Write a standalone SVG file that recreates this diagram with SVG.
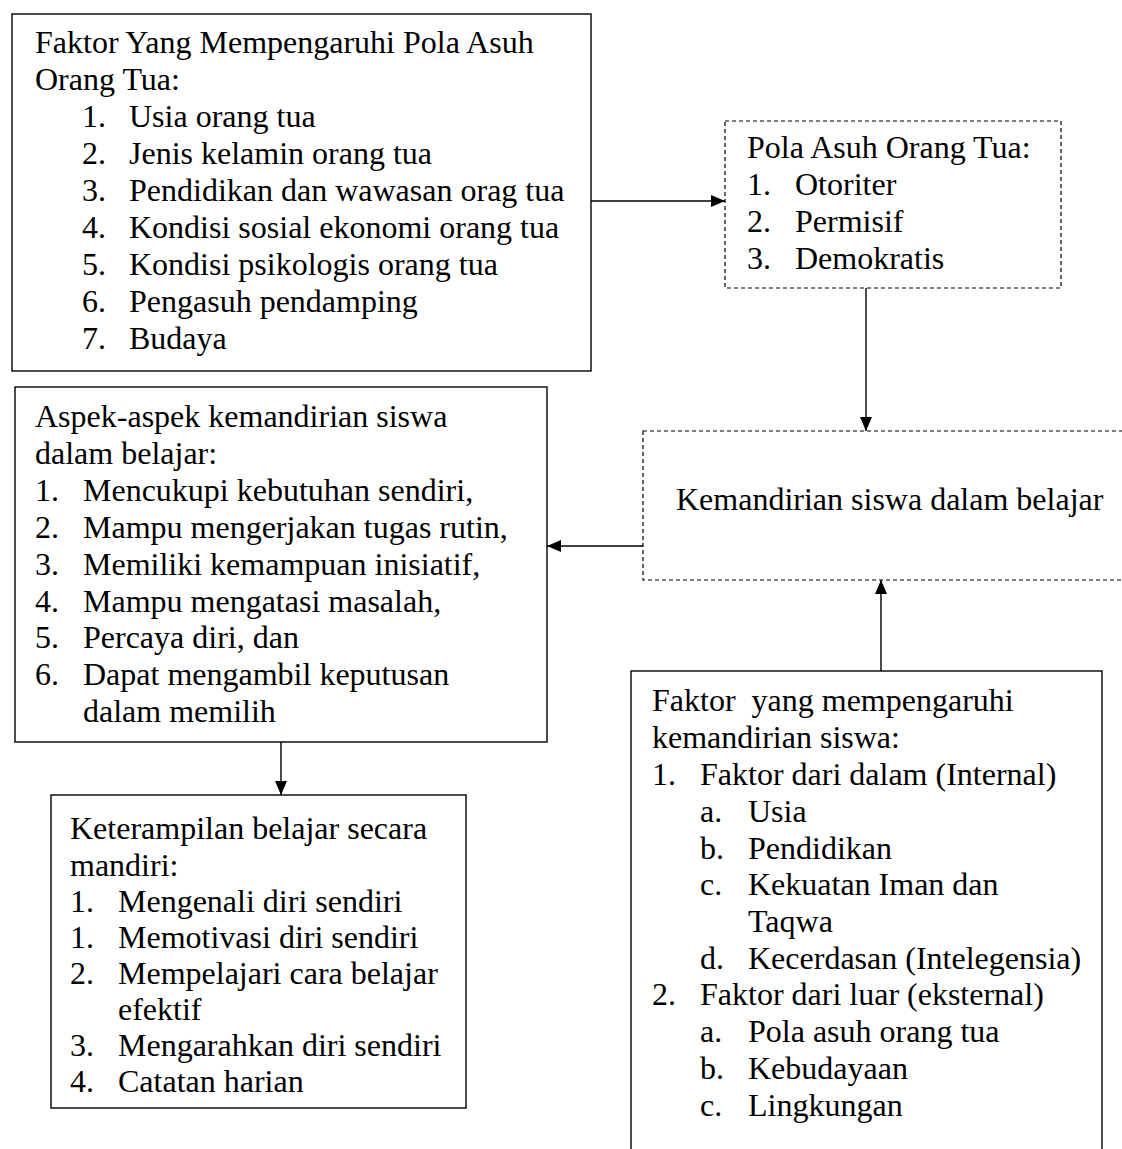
<svg xmlns="http://www.w3.org/2000/svg" width="1122" height="1149" viewBox="0 0 1122 1149">
<style>
text{font-family:"Liberation Serif","Times New Roman",serif;font-size:32px;fill:#000}
.box{fill:#fff;stroke:#000;stroke-width:1.4}
.dash{fill:#fff;stroke:#000;stroke-width:1.2;stroke-dasharray:4 3}
.conn{stroke:#000;stroke-width:1.4;fill:none}
</style>
<defs>
<marker id="ah" viewBox="0 0 14 12" refX="14" refY="6" markerWidth="14" markerHeight="12" markerUnits="userSpaceOnUse" orient="auto">
<path d="M0,0 L14,6 L0,12 Z" fill="#000"/>
</marker>
</defs>
<rect width="1122" height="1149" fill="#fff"/>

<g id="connectors">
<line class="conn" x1="591" y1="201" x2="725" y2="201" marker-end="url(#ah)"/>
<line class="conn" x1="866" y1="288" x2="866" y2="431" marker-end="url(#ah)"/>
<line class="conn" x1="643" y1="546" x2="547" y2="546" marker-end="url(#ah)"/>
<line class="conn" x1="881" y1="671" x2="881" y2="580" marker-end="url(#ah)"/>
<line class="conn" x1="281" y1="742" x2="281" y2="795" marker-end="url(#ah)"/>
</g>

<g id="faktor-pola-asuh">
<rect class="box" x="12" y="14" width="579" height="357"/>
<text x="35" y="53">Faktor Yang Mempengaruhi Pola Asuh</text>
<text x="35" y="90">Orang Tua:</text>
<text x="82" y="127">1.</text><text x="129" y="127">Usia orang tua</text>
<text x="82" y="164">2.</text><text x="129" y="164">Jenis kelamin orang tua</text>
<text x="82" y="201">3.</text><text x="129" y="201">Pendidikan dan wawasan orag tua</text>
<text x="82" y="238">4.</text><text x="129" y="238">Kondisi sosial ekonomi orang tua</text>
<text x="82" y="275">5.</text><text x="129" y="275">Kondisi psikologis orang tua</text>
<text x="82" y="312">6.</text><text x="129" y="312">Pengasuh pendamping</text>
<text x="82" y="349">7.</text><text x="129" y="349">Budaya</text>
</g>

<g id="pola-asuh">
<rect class="dash" x="725" y="121" width="336" height="167"/>
<text x="747" y="158">Pola Asuh Orang Tua:</text>
<text x="747" y="195">1.</text><text x="795" y="195">Otoriter</text>
<text x="747" y="232">2.</text><text x="795" y="232">Permisif</text>
<text x="747" y="269">3.</text><text x="795" y="269">Demokratis</text>
</g>

<g id="kemandirian">
<rect class="dash" x="643" y="431" width="490" height="149"/>
<text x="676" y="510">Kemandirian siswa dalam belajar</text>
</g>

<g id="aspek">
<rect class="box" x="15" y="387" width="532" height="355"/>
<text x="35" y="427">Aspek-aspek kemandirian siswa</text>
<text x="35" y="464">dalam belajar:</text>
<text x="35" y="501">1.</text><text x="83" y="501">Mencukupi kebutuhan sendiri,</text>
<text x="35" y="538">2.</text><text x="83" y="538">Mampu mengerjakan tugas rutin,</text>
<text x="35" y="575">3.</text><text x="83" y="575">Memiliki kemampuan inisiatif,</text>
<text x="35" y="612">4.</text><text x="83" y="612">Mampu mengatasi masalah,</text>
<text x="35" y="648">5.</text><text x="83" y="648">Percaya diri, dan</text>
<text x="35" y="685">6.</text><text x="83" y="685">Dapat mengambil keputusan</text>
<text x="83" y="722">dalam memilih</text>
</g>

<g id="keterampilan">
<rect class="box" x="51" y="795" width="415" height="313"/>
<text x="70" y="839">Keterampilan belajar secara</text>
<text x="70" y="876">mandiri:</text>
<text x="70" y="912">1.</text><text x="118" y="912">Mengenali diri sendiri</text>
<text x="70" y="948">1.</text><text x="118" y="948">Memotivasi diri sendiri</text>
<text x="70" y="984">2.</text><text x="118" y="984">Mempelajari cara belajar</text>
<text x="118" y="1020">efektif</text>
<text x="70" y="1056">3.</text><text x="118" y="1056">Mengarahkan diri sendiri</text>
<text x="70" y="1092">4.</text><text x="118" y="1092">Catatan harian</text>
</g>

<g id="faktor-kemandirian">
<rect class="box" x="631" y="671" width="471" height="500"/>
<text x="652" y="711" xml:space="preserve">Faktor  yang mempengaruhi</text>
<text x="652" y="748">kemandirian siswa:</text>
<text x="652" y="785">1.</text><text x="700" y="785">Faktor dari dalam (Internal)</text>
<text x="700" y="822">a.</text><text x="748" y="822">Usia</text>
<text x="700" y="859">b.</text><text x="748" y="859">Pendidikan</text>
<text x="700" y="895">c.</text><text x="748" y="895">Kekuatan Iman dan</text>
<text x="748" y="932">Taqwa</text>
<text x="700" y="969">d.</text><text x="748" y="969">Kecerdasan (Intelegensia)</text>
<text x="652" y="1005">2.</text><text x="700" y="1005">Faktor dari luar (eksternal)</text>
<text x="700" y="1042">a.</text><text x="748" y="1042">Pola asuh orang tua</text>
<text x="700" y="1079">b.</text><text x="748" y="1079">Kebudayaan</text>
<text x="700" y="1116">c.</text><text x="748" y="1116">Lingkungan</text>
</g>
</svg>
